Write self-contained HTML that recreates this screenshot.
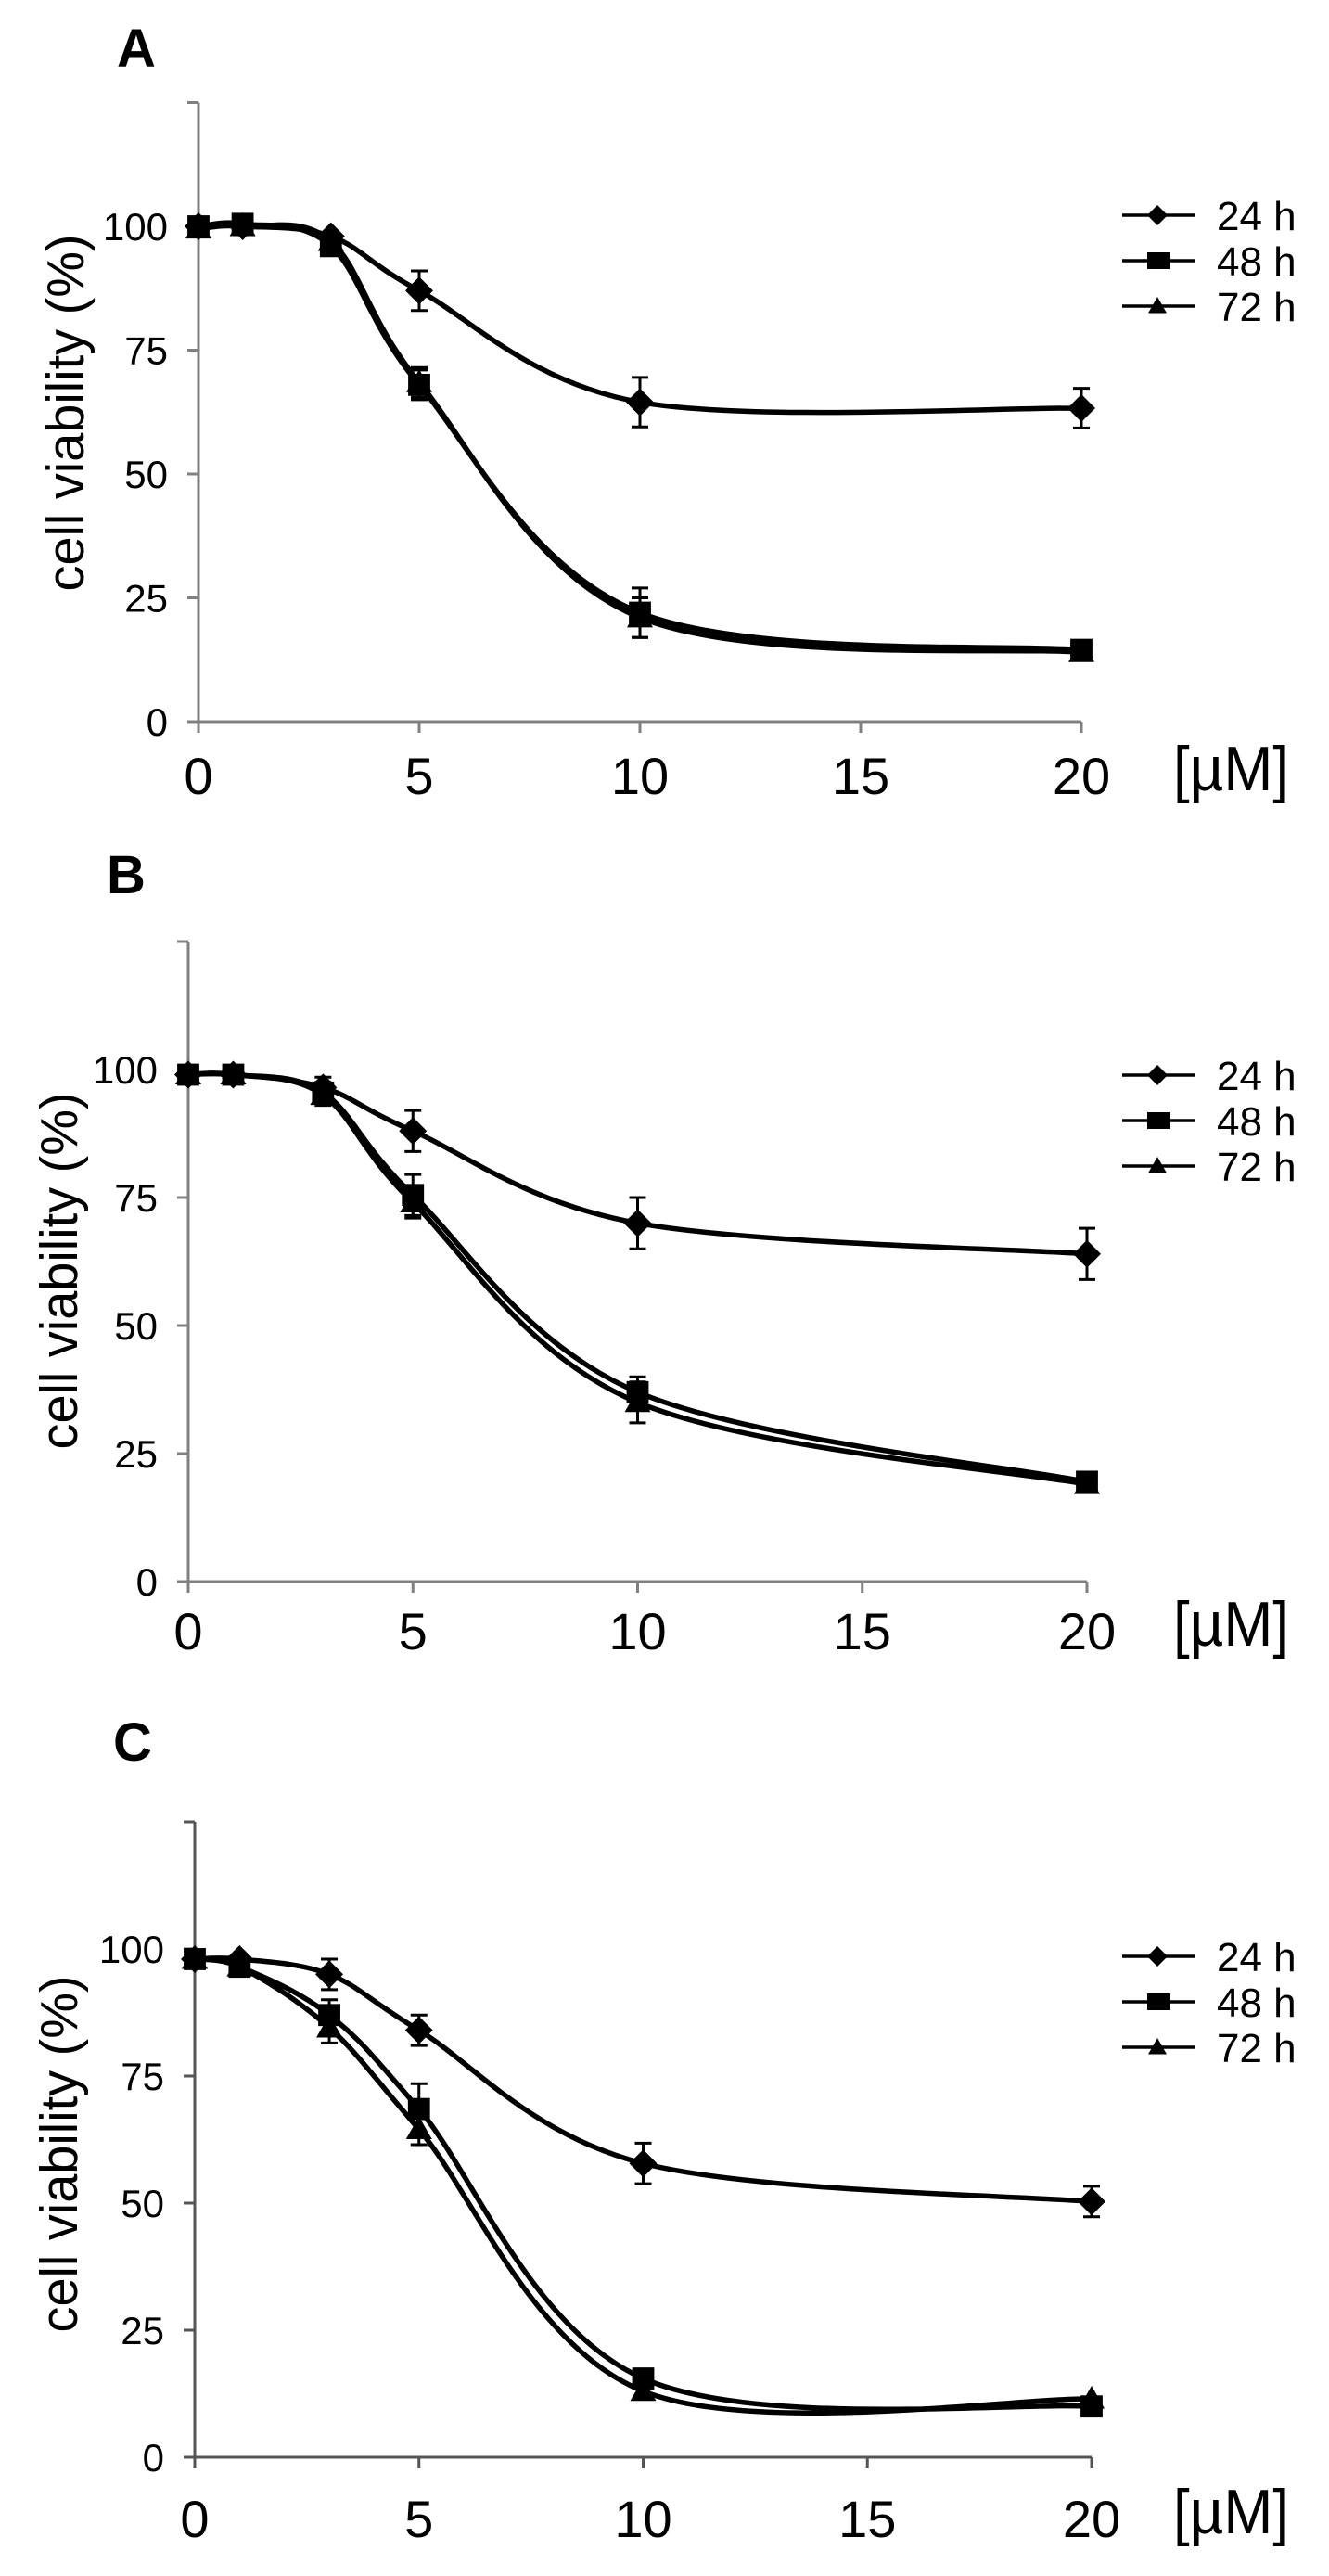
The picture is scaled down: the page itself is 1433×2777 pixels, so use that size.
<!DOCTYPE html>
<html><head><meta charset="utf-8"><title>Cell viability dose–response panels</title>
<style>
html,body{margin:0;padding:0;background:#fff;}
svg{display:block;font-family:"Liberation Sans",Arial,sans-serif;}
</style></head>
<body>
<svg id="fig" width="1433" height="2777" viewBox="0 0 1433 2777" xmlns="http://www.w3.org/2000/svg"></svg>
<script>
// ---- data ----
const doses = [0, 1, 3, 5, 10, 20];
const seriesNames = ["24 h", "48 h", "72 h"];
const xTicks = [0, 5, 10, 15, 20];
const yTicks = [0, 25, 50, 75, 100];
const panelLetters = ["A", "B", "C"];

const a24 = [100, 100, 98, 87, 64.5, 63.3];
const a48 = [100, 100.5, 96, 68, 22, 14.5];
const a72 = [99.5, 100, 97, 68.5, 21, 14];
const a24err = [1, 1, 1, 4, 5, 4];
const a48err = [1, 1, 1, 3, 5, 1];
const a72err = [1, 1, 1, 3, 4, 1];

const b24 = [99, 99, 96.5, 88, 70, 64];
const b48 = [99, 99, 95.5, 75.5, 37, 19.5];
const b72 = [99, 99, 95, 74, 35, 19];
const b24err = [1, 1, 2, 4, 5, 5];
const b48err = [1, 1, 2, 4, 3, 1];
const b72err = [1, 1, 2, 3, 4, 1];

const c24 = [98, 98, 95, 84, 57.8, 50.3];
const c48 = [98, 96.5, 87, 68.5, 15.5, 10];
const c72 = [98, 96.5, 84.5, 64.5, 13, 11.5];
const c24err = [1, 1, 3, 3, 4, 3];
const c48err = [1, 1, 3, 5, 1, 1];
const c72err = [1, 1, 3, 3, 1, 1];

// ---- layout ----
const panels = [
  {x0:214, x20:1166, y0:778, y100:244, letterY:72, legY:232, tickBase:856, title:{x:70,y:445}, axisColor:"#808080",
   vals:[a24,a48,a72], errs:[a24err,a48err,a72err]},
  {x0:203, x20:1172, y0:1705, y100:1153, letterY:963, legY:1159, tickBase:1778, title:{x:63,y:1370}, axisColor:"#808080",
   vals:[b24,b48,b72], errs:[b24err,b48err,b72err]},
  {x0:210, x20:1177, y0:2649, y100:2101, letterY:1898, legY:2109, tickBase:2735, title:{x:63,y:2322}, axisColor:"#555",
   vals:[c24,c48,c72], errs:[c24err,c48err,c72err]}
];

const NS = "http://www.w3.org/2000/svg";
const svg = document.getElementById("fig");
function mk(tag, attrs, parent){
  const e = document.createElementNS(NS, tag);
  for (const k in attrs) e.setAttribute(k, attrs[k]);
  (parent||svg).appendChild(e);
  return e;
}
function smoothPath(pts){
  let d = "M" + pts[0][0] + "," + pts[0][1];
  for (let i=0;i<pts.length-1;i++){
    const p0 = pts[i-1]||pts[i], p1=pts[i], p2=pts[i+1], p3=pts[i+2]||pts[i+1];
    const c1x = p1[0]+(p2[0]-p0[0])/6, c1y = p1[1]+(p2[1]-p0[1])/6;
    const c2x = p2[0]-(p3[0]-p1[0])/6, c2y = p2[1]-(p3[1]-p1[1])/6;
    d += " C"+c1x+","+c1y+" "+c2x+","+c2y+" "+p2[0]+","+p2[1];
  }
  return d;
}
function marker(kind, cx, cy, g, s){
  let e;
  if (kind===0) e = mk("polygon",{points:(cx)+","+(cy-s)+" "+(cx+s)+","+cy+" "+cx+","+(cy+s)+" "+(cx-s)+","+cy,fill:"#000"},g);
  else if (kind===1) e = mk("rect",{x:cx-s*0.85,y:cy-s*0.85,width:s*1.7,height:s*1.7,fill:"#000"},g);
  else e = mk("polygon",{points:cx+","+(cy-s)+" "+(cx+s)+","+(cy+s*0.75)+" "+(cx-s)+","+(cy+s*0.75),fill:"#000"},g);
  return e;
}

panels.forEach((P, pi) => {
  const xs = v => P.x0 + (P.x20-P.x0)*v/20;
  const ys = v => P.y0 - (P.y0-P.y100)*v/100;
  const g = mk("g",{});
  
  

  const L = mk("text",{x:P.x0-88,y:P.letterY,"font-size":"58","font-weight":"bold"},g);
  L.textContent = panelLetters[pi];
  
  

  const yTop = ys(125);
  const ya = mk("line",{x1:P.x0,y1:yTop,x2:P.x0,y2:P.y0,stroke:P.axisColor,"stroke-width":3},g);
  
  
  mk("line",{x1:P.x0-12,y1:yTop,x2:P.x0,y2:yTop,stroke:P.axisColor,"stroke-width":3},g);
  const xa = mk("line",{x1:P.x0-12,y1:P.y0,x2:xs(20),y2:P.y0,stroke:P.axisColor,"stroke-width":3},g);
  
  

  yTicks.forEach(t => {
    mk("line",{x1:P.x0-12,y1:ys(t),x2:P.x0,y2:ys(t),stroke:P.axisColor,"stroke-width":3},g);
    const tx = mk("text",{x:P.x0-33,y:ys(t)+15,"font-size":"42","text-anchor":"end"},g);
    tx.textContent = t;
    
    
  });
  xTicks.forEach(t => {
    mk("line",{x1:xs(t),y1:P.y0,x2:xs(t),y2:P.y0+12,stroke:P.axisColor,"stroke-width":3},g);
    const tx = mk("text",{x:xs(t),y:P.tickBase,"font-size":"56","text-anchor":"middle"},g);
    tx.textContent = t;
    
    
  });
  const unit = mk("text",{x:1265,y:P.tickBase-4,"font-size":"68",textLength:"125",lengthAdjust:"spacingAndGlyphs"},g);
  unit.textContent = "[\u00b5M]";
  
  

  const yt = mk("text",{x:P.title.x+20,y:P.title.y,"font-size":"57","text-anchor":"middle",transform:"rotate(-90 "+(P.title.x+20)+" "+P.title.y+")",textLength:"385",lengthAdjust:"spacingAndGlyphs"},g);
  yt.textContent = "cell viability (%)";
  
  

  [2,1,0].forEach(si => {
    const vals = P.vals[si], errs = P.errs[si];
    const sg = mk("g",{},g);
    
    
    const pts = doses.map((d,i)=>[xs(d), ys(vals[i])]);
    const path = mk("path",{d:smoothPath(pts),fill:"none",stroke:"#000","stroke-width":5.5},sg);
    
    
    doses.forEach((d,i) => {
      if (errs[i] > 1.5) {
        const x = xs(d), yh = ys(vals[i]+errs[i]), yl = ys(vals[i]-errs[i]);
        const eb = mk("path",{d:"M"+x+","+yh+"V"+yl+"M"+(x-9)+","+yh+"H"+(x+9)+"M"+(x-9)+","+yl+"H"+(x+9),stroke:"#000","stroke-width":3,fill:"none"},sg);
        
        
      }
      const m = marker(si, xs(d), ys(vals[i]), sg, si===0?15:14);
      
      
    });
  });

  const lg = mk("g",{},g);
  
  
  seriesNames.forEach((n, si) => {
    const y = P.legY + si*49;
    const eg = mk("g",{},lg);
    
    
    mk("line",{x1:1210,y1:y,x2:1288,y2:y,stroke:"#000","stroke-width":3.5},eg);
    if (si===1) mk("rect",{x:1237,y:y-9,width:25,height:18,fill:"#000"},eg);
    else marker(si, 1248, y, eg, si===0?11:10);
    const t = mk("text",{x:1312,y:y+16,"font-size":"44"},eg);
    t.textContent = n;
  });
});
</script>
</body></html>
